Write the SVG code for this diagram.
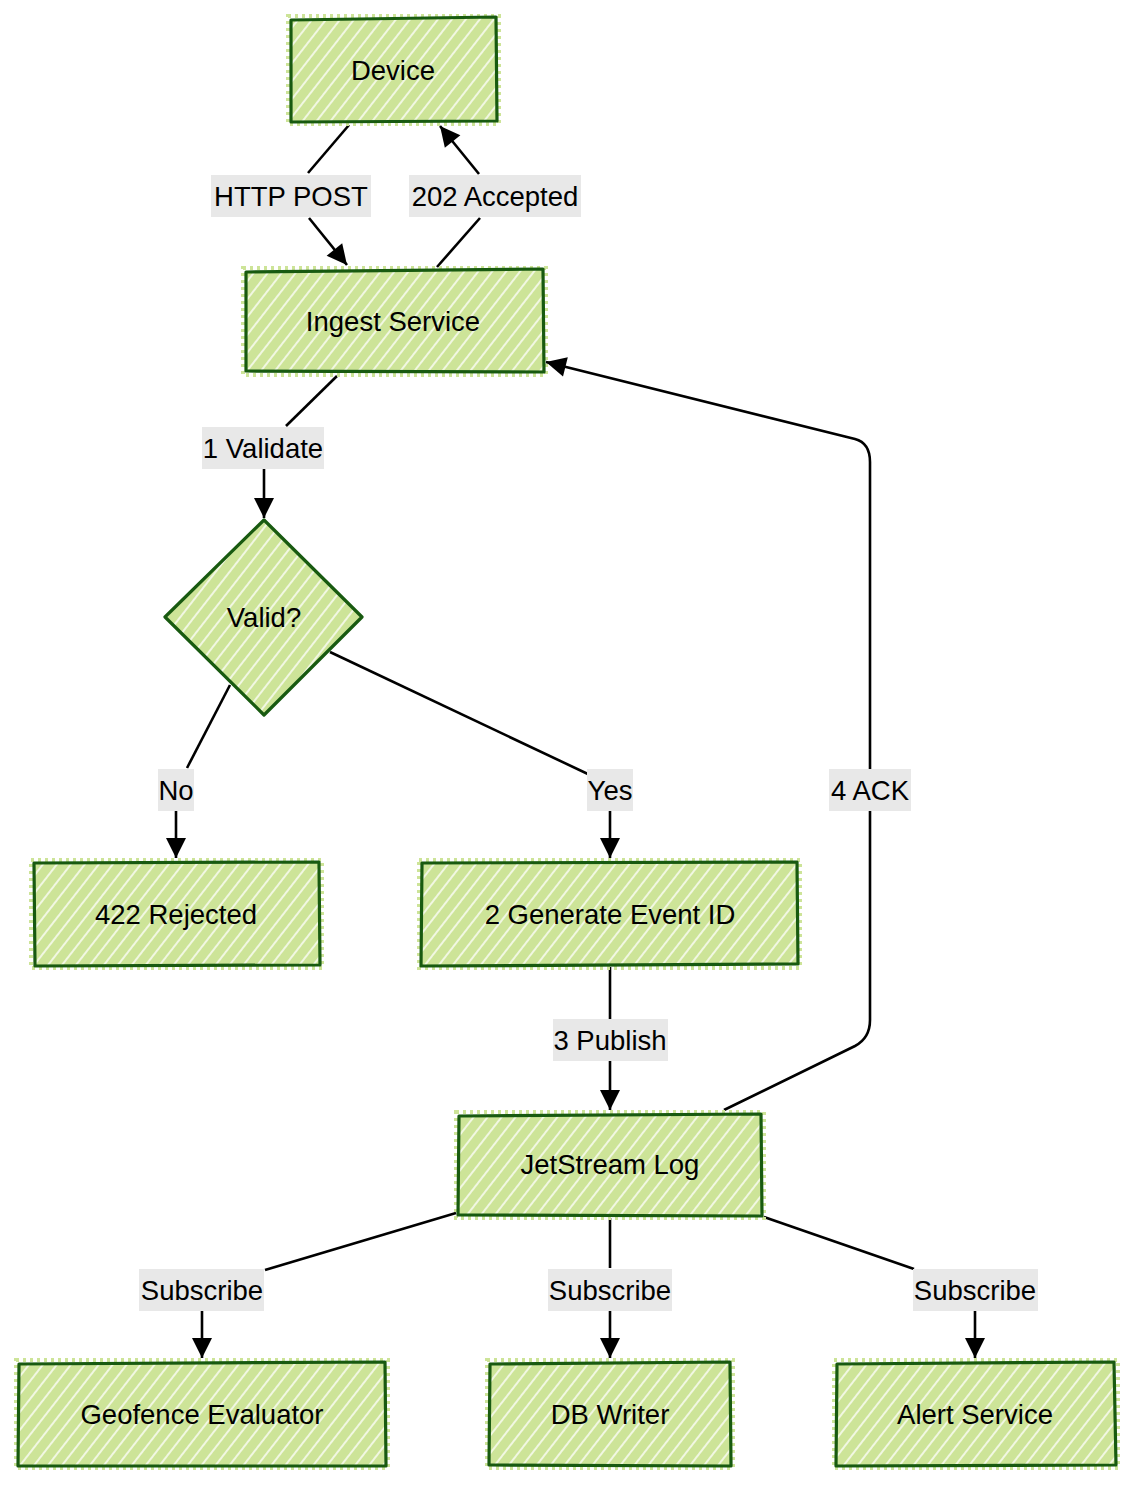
<svg xmlns="http://www.w3.org/2000/svg" width="1134" height="1485" viewBox="0 0 1134 1485">
<defs>
<pattern id="hatch" patternUnits="userSpaceOnUse" width="11" height="11" patternTransform="rotate(-52)">
<rect width="11" height="11" fill="#cde498"/>
<line x1="0" y1="5" x2="11" y2="5" stroke="#ffffff" stroke-width="1.6" stroke-opacity="0.9"/>
</pattern>
<marker id="arr" markerUnits="userSpaceOnUse" markerWidth="24" markerHeight="24" viewBox="0 0 24 24" refX="22" refY="12" orient="auto">
<path d="M2,2 L22,12 L2,22 Z" fill="#000"/>
</marker>
<style>
.node{fill:url(#hatch);stroke:#185a10;stroke-width:3.2;stroke-linejoin:round}
.halo{fill:none;stroke:#cde498;stroke-width:4;stroke-dasharray:3 4}
.t{font-family:"Liberation Sans",Arial,sans-serif;font-size:27.5px;fill:#000;text-anchor:middle}
.e{fill:none;stroke:#000;stroke-width:2.6}
.lb{fill:#e8e8e8}
</style>
</defs>
<rect width="1134" height="1485" fill="#ffffff"/>

<g id="connectors">
<path class="e" d="M349,125 L308,173"/>
<path class="e" d="M309,218 L347,265" marker-end="url(#arr)"/>
<rect class="lb" x="211" y="175" width="160" height="42"/>
<text class="t" x="291" y="206">HTTP POST</text>

<path class="e" d="M437,267 L480,218"/>
<path class="e" d="M479,174 L440,126" marker-end="url(#arr)"/>
<rect class="lb" x="409" y="175" width="172" height="42"/>
<text class="t" x="495" y="206">202 Accepted</text>

<path class="e" d="M337,376 L286,426"/>
<path class="e" d="M264,469 L264,518" marker-end="url(#arr)"/>
<rect class="lb" x="202" y="427" width="122" height="42"/>
<text class="t" x="263" y="458">1 Validate</text>

<path class="e" d="M230,685 L187,768"/>
<path class="e" d="M176,811 L176,858" marker-end="url(#arr)"/>
<rect class="lb" x="158" y="769" width="36" height="42"/>
<text class="t" x="176" y="800">No</text>

<path class="e" d="M330,652 L590,775"/>
<path class="e" d="M610,811 L610,858" marker-end="url(#arr)"/>
<rect class="lb" x="587" y="769" width="46" height="42"/>
<text class="t" x="610" y="800">Yes</text>

<path class="e" d="M610,967 L610,1019"/>
<path class="e" d="M610,1061 L610,1110" marker-end="url(#arr)"/>
<rect class="lb" x="553" y="1019" width="115" height="42"/>
<text class="t" x="610" y="1050">3 Publish</text>

<path class="e" d="M724,1110 L855,1046 Q870,1038 870,1020 L870,811"/>
<path class="e" d="M870,769 L870,462 Q870,443 855,439 L546,362" marker-end="url(#arr)"/>
<rect class="lb" x="829" y="769" width="82" height="42"/>
<text class="t" x="870" y="800">4 ACK</text>

<path class="e" d="M456,1213 L265,1270"/>
<path class="e" d="M202,1311 L202,1358" marker-end="url(#arr)"/>
<rect class="lb" x="139" y="1269" width="125" height="42"/>
<text class="t" x="202" y="1300">Subscribe</text>

<path class="e" d="M610,1218 L610,1268"/>
<path class="e" d="M610,1311 L610,1358" marker-end="url(#arr)"/>
<rect class="lb" x="548" y="1269" width="124" height="42"/>
<text class="t" x="610" y="1300">Subscribe</text>

<path class="e" d="M764,1217 L914,1269"/>
<path class="e" d="M975,1311 L975,1358" marker-end="url(#arr)"/>
<rect class="lb" x="913" y="1269" width="125" height="42"/>
<text class="t" x="975" y="1300">Subscribe</text>
</g>

<g id="device">
<rect class="halo" x="288" y="16" width="211" height="108"/>
<path class="node" d="M291,20 L496,17 L497,121 L291,122 Z"/>
<text class="t" x="393" y="80">Device</text>
</g>
<g id="ingest">
<rect class="halo" x="243" y="268" width="303" height="107"/>
<path class="node" d="M246,272 L543,269 L544,372 L246,371 Z"/>
<text class="t" x="393" y="331">Ingest Service</text>
</g>
<g id="valid">
<path class="node" d="M264,520 L362,617 L264,715 L165,617 Z"/>
<text class="t" x="264" y="627">Valid?</text>
</g>
<g id="rejected">
<rect class="halo" x="31" y="860" width="291" height="108"/>
<path class="node" d="M34,863 L319,862 L320,965 L35,966 Z"/>
<text class="t" x="176" y="924">422 Rejected</text>
</g>
<g id="generate">
<rect class="halo" x="419" y="860" width="381" height="108"/>
<path class="node" d="M422,863 L797,862 L798,964 L421,966 Z"/>
<text class="t" x="610" y="924">2 Generate Event ID</text>
</g>
<g id="jetstream">
<rect class="halo" x="456" y="1112" width="308" height="106"/>
<path class="node" d="M459,1116 L761,1114 L762,1216 L458,1215 Z"/>
<text class="t" x="610" y="1174">JetStream Log</text>
</g>
<g id="geofence">
<rect class="halo" x="16" y="1360" width="372" height="108"/>
<path class="node" d="M19,1364 L385,1362 L386,1466 L18,1466 Z"/>
<text class="t" x="202" y="1424">Geofence Evaluator</text>
</g>
<g id="dbwriter">
<rect class="halo" x="487" y="1360" width="246" height="108"/>
<path class="node" d="M490,1364 L730,1362 L731,1466 L489,1465 Z"/>
<text class="t" x="610" y="1424">DB Writer</text>
</g>
<g id="alert">
<rect class="halo" x="834" y="1360" width="284" height="108"/>
<path class="node" d="M837,1364 L1114,1362 L1116,1465 L836,1466 Z"/>
<text class="t" x="975" y="1424">Alert Service</text>
</g>
</svg>
